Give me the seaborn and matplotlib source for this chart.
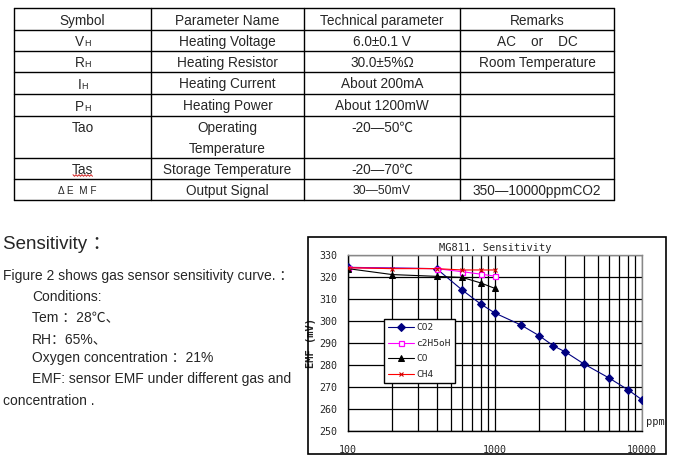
import matplotlib
matplotlib.use("Agg")
import matplotlib.pyplot as plt
from matplotlib.lines import Line2D
from matplotlib.patches import Rectangle
import seaborn as sns
import pandas as pd
import numpy as np

sns.set_style("white")
plt.rcParams['font.family'] = ['Liberation Sans', 'Noto Sans CJK SC', 'DejaVu Sans']

# ---------------- data ----------------
table_header = ["Symbol", "Parameter Name", "Technical parameter", "Remarks"]
param_names = ["Heating Voltage", "Heating Resistor", "Heating Current", "Heating Power",
               "Operating\nTemperature", "Storage Temperature", "Output Signal"]
tech_params = ["6.0±0.1 V", "30.0±5%Ω", "About 200mA", "About 1200mW",
               "-20—50℃", "-20—70℃", "30—50mV"]
remarks = ["AC    or    DC", "Room Temperature", "", "", "", "", "350—10000ppmCO2"]

ppm_co2 = [100, 400, 600, 800, 1000, 1500, 2000, 2500, 3000, 4000, 6000, 8000, 10000]
emf_co2 = [324.4, 323.8, 314.0, 307.7, 303.6, 298.2, 293.3, 288.7, 286.0, 280.6, 274.0, 268.8, 264.2]
ppm_c2h5oh = [100, 400, 600, 800, 1000]
emf_c2h5oh = [324.2, 323.8, 322.4, 321.3, 320.4]
ppm_co = [100, 200, 400, 600, 800, 1000]
emf_co = [323.8, 321.1, 320.3, 319.8, 317.3, 314.8]
ppm_ch4 = [100, 200, 400, 600, 800, 1000]
emf_ch4 = [324.2, 323.8, 323.8, 323.2, 323.2, 323.2]

y_ticks = [250, 260, 270, 280, 290, 300, 310, 320, 330]
x_ticks = [100, 1000, 10000]
x_ticklabels = ["100", "1000", "10000"]

W, H = 677, 459
fig = plt.figure(figsize=(W / 100, H / 100), dpi=100)


def fx(x):
    return x / W


def fy(y):
    return 1 - y / H


def hline(x0, x1, y, **kw):
    fig.add_artist(Line2D([fx(x0), fx(x1)], [fy(y), fy(y)], transform=fig.transFigure,
                          color='black', lw=1.0, **kw))


def vline(x, y0, y1, **kw):
    fig.add_artist(Line2D([fx(x), fx(x)], [fy(y0), fy(y1)], transform=fig.transFigure,
                          color='black', lw=1.0, **kw))


# ---------------- table ----------------
cols = [14, 151, 304, 460, 614]
rows = [8, 30, 51, 72, 94, 116, 158, 179, 200]
for r in rows:
    hline(cols[0], cols[-1], r)
for c in cols:
    vline(c, rows[0], rows[-1])

TFS = 9.8
DY = 1.3
ccent = [(cols[i] + cols[i + 1]) / 2 for i in range(4)]
for i, h in enumerate(table_header):
    fig.text(fx(ccent[i]), fy(19.5 + DY), h, ha='center', va='center', fontsize=TFS)

row_c = [(rows[i] + rows[i + 1]) / 2 for i in range(1, 8)]
for k in range(7):
    yc = row_c[k] + DY
    if k == 4:
        fig.text(fx(ccent[1]), fy(127 + DY), "Operating", ha='center', va='center', fontsize=TFS)
        fig.text(fx(ccent[1]), fy(147.5 + DY), "Temperature", ha='center', va='center', fontsize=TFS)
        fig.text(fx(ccent[2]), fy(127 + DY), tech_params[k], ha='center', va='center', fontsize=TFS)
        fig.text(fx(ccent[0]), fy(127 + DY), "Tao", ha='center', va='center', fontsize=TFS)
        continue
    fig.text(fx(ccent[1]), fy(yc), param_names[k], ha='center', va='center', fontsize=TFS)
    fs = TFS if k != 6 else 8.8
    fig.text(fx(ccent[2]), fy(yc), tech_params[k], ha='center', va='center', fontsize=fs)
    if remarks[k]:
        fig.text(fx(ccent[3]), fy(yc), remarks[k], ha='center', va='center', fontsize=TFS)

# symbols with small H
subs = [("V", 9.1), ("R", 9.8), ("I", 3.8), ("P", 9.1)]
for k, (m, w) in enumerate(subs):
    base = row_c[k] + 5.6
    xr = 82.5 + (w - 6) / 2
    fig.text(fx(xr), fy(base), m, ha='right', va='baseline', fontsize=TFS)
    fig.text(fx(xr + 0.3), fy(base), "H", ha='left', va='baseline', fontsize=6.5)
fig.text(fx(ccent[0]), fy(row_c[5] + DY), "Tas", ha='center', va='center', fontsize=TFS)
# spell-check wavy underline
zx = np.arange(73, 93, 1.5)
zy = 175.5 + np.where(np.arange(len(zx)) % 2 == 0, -0.8, 0.8)
fig.add_artist(Line2D(fx(zx), fy(zy), transform=fig.transFigure, color='#d02020', lw=0.7))
fig.text(fx(77), fy(row_c[6] + DY), "Δ E  M F", ha='center', va='center', fontsize=7.2)

# ---------------- left text ----------------
fig.text(fx(3), fy(244), "Sensitivity ：", ha='left', va='center', fontsize=13.5)
BFS = 10
body = [
    (3, 275, "Figure 2 shows gas sensor sensitivity curve. ："),
    (32, 296, "Conditions:"),
    (32, 317, "Tem ：28℃、"),
    (32, 338, "RH：65%、"),
    (32, 357, "Oxygen concentration ：21%"),
    (32, 378, "EMF: sensor EMF under different gas and"),
    (3, 400, "concentration ."),
]
for x, y, t in body:
    fig.text(fx(x), fy(y + 1.3), t, ha='left', va='center', fontsize=BFS)

# ---------------- chart ----------------
fig.add_artist(Rectangle((fx(308), fy(454)), fx(666) - fx(308), fy(237) - fy(454),
                         transform=fig.transFigure, fill=False, ec='black', lw=1.2))

ax = fig.add_axes([fx(348), fy(431), fx(642) - fx(348), fy(255) - fy(431)])
mono = 'DejaVu Sans Mono'

df_co2 = pd.DataFrame({"ppm": ppm_co2, "emf": emf_co2})
df_c2 = pd.DataFrame({"ppm": ppm_c2h5oh, "emf": emf_c2h5oh})
df_co = pd.DataFrame({"ppm": ppm_co, "emf": emf_co})
df_ch4 = pd.DataFrame({"ppm": ppm_ch4, "emf": emf_ch4})

sns.lineplot(data=df_co2, x="ppm", y="emf", ax=ax, color='#000080', lw=0.8, marker='D',
             markersize=3.6, markeredgecolor='#000080', label="CO2", sort=False, estimator=None, zorder=3)
sns.lineplot(data=df_c2, x="ppm", y="emf", ax=ax, color='#ff00ff', lw=0.8, marker='s',
             markersize=3.6, markerfacecolor='white', markeredgecolor='#ff00ff', markeredgewidth=0.9,
             label="c2H5oH", sort=False, estimator=None, zorder=4)
sns.lineplot(data=df_co, x="ppm", y="emf", ax=ax, color='black', lw=0.8, marker='^',
             markersize=4.2, markeredgecolor='black', label="CO", sort=False, estimator=None, zorder=5)
sns.lineplot(data=df_ch4, x="ppm", y="emf", ax=ax, color='#ff0000', lw=0.8, marker='x',
             markersize=3.2, markeredgecolor='#cc0000', markeredgewidth=0.8, label="CH4",
             sort=False, estimator=None, zorder=6)

ax.set_xscale('log')
ax.set_xlim(100, 10000)
ax.set_ylim(250, 330)
ax.set_axisbelow(True)
ax.grid(which='both', axis='both', color='black', lw=0.9)
ax.set_yticks(y_ticks)
ax.set_yticklabels([str(v) for v in y_ticks])
ax.set_xticks(x_ticks)
ax.set_xticklabels(x_ticklabels)
ax.xaxis.set_minor_formatter(matplotlib.ticker.NullFormatter())
ax.tick_params(which='both', length=0)
ax.tick_params(axis='y', pad=8, labelsize=7.2)
ax.tick_params(axis='x', pad=10, labelsize=7.2)
for lab in ax.get_xticklabels() + ax.get_yticklabels():
    lab.set_fontfamily(mono)
for s in ['top', 'right']:
    ax.spines[s].set_color('#888888')
    ax.spines[s].set_linewidth(1.0)
for s in ['left', 'bottom']:
    ax.spines[s].set_color('black')
    ax.spines[s].set_linewidth(1.0)

ax.set_xlabel("")
ax.set_ylabel("EMF (mV)", fontfamily=mono, fontsize=7.5, fontweight='bold')
ax.yaxis.set_label_coords((316 - 348) / 294, 0.5)
ax.set_title("MG811. Sensitivity", fontfamily=mono, fontsize=7.5, pad=3)
fig.text(fx(655), fy(422), "ppm", ha='center', va='center', fontfamily=mono, fontsize=7.5)

leg = ax.legend(loc='upper left', bbox_to_anchor=(fx(384), fy(319)), bbox_transform=fig.transFigure,
                prop={'family': mono, 'size': 6.8}, frameon=True, fancybox=False, framealpha=1,
                edgecolor='black', handlelength=2.7, handletextpad=0.3, labelspacing=0.7,
                borderpad=0.45, borderaxespad=0)
leg.get_frame().set_linewidth(1.0)

fig.savefig("out.png", dpi=100)
